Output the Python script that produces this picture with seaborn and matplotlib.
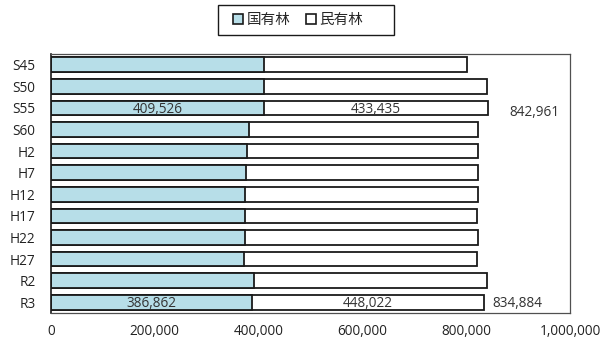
import matplotlib
matplotlib.use("Agg")
import matplotlib.pyplot as plt
import seaborn as sns
import pandas as pd
from matplotlib.patches import Patch, Rectangle
from matplotlib.ticker import FuncFormatter

# 森林面積（国有林・民有林）
years = ["S45", "S50", "S55", "S60", "H2", "H7", "H12", "H17", "H22", "H27", "R2", "R3"]
national = [410000, 410200, 409526, 382000, 377800, 375800, 374500, 373000, 373000, 372000, 390600, 386862]
private = [391000, 430800, 433435, 441600, 444000, 446200, 447900, 447500, 448800, 448500, 449200, 448022]
labeled_years = ["S55", "R3"]

df = pd.DataFrame({"year": years, "national": national, "private": private})
df["total"] = df["national"] + df["private"]

sns.set_theme(style="white")
plt.rcParams["font.family"] = ["Open Sans", "Noto Sans CJK JP", "DejaVu Sans"]

fig = plt.figure(figsize=(6.12, 3.42), dpi=100)
ax = fig.add_axes([51 / 612, 1 - 313 / 342, (570 - 51) / 612, (313 - 54) / 342])

blue = "#B7DEE8"
edge = "#1a1a1a"
sns.barplot(data=df, x="total", y="year", order=years, color="white", orient="h",
            width=0.68, edgecolor=edge, linewidth=1.3, saturation=1, ax=ax)
sns.barplot(data=df, x="national", y="year", order=years, color=blue, orient="h",
            width=0.68, edgecolor=edge, linewidth=1.3, saturation=1, ax=ax)

ax.set_xlim(0, 1000000)
ax.set_xticks(range(0, 1000001, 200000))
ax.xaxis.set_major_formatter(FuncFormatter(lambda v, p: f"{int(v):,}"))
ax.set_xlabel("")
ax.set_ylabel("")
ax.tick_params(axis="x", length=0, pad=8, labelsize=9.8, colors="#222222")
ax.tick_params(axis="y", length=0, pad=11, labelsize=9.8, colors="#222222")

for side in ["top", "right", "bottom"]:
    ax.spines[side].set_color("#505050")
    ax.spines[side].set_linewidth(0.9)
ax.spines["left"].set_color(edge)
ax.spines["left"].set_linewidth(1.2)

# value labels for the marked years
total_offsets = {"S55": 21, "R3": 8}
for y in labeled_years:
    i = years.index(y)
    n, p = national[i], private[i]
    t = n + p
    ax.text(n / 2, i + 0.05, f"{n:,}", ha="center", va="center", fontsize=9.8, color="#333333")
    ax.text(n + p / 2, i + 0.05, f"{p:,}", ha="center", va="center", fontsize=9.8, color="#333333")
    ax.annotate(f"{t:,}", xy=(t, i + (0.2 if y == "S55" else 0.05)), xytext=(total_offsets[y] * 0.72, 0),
                textcoords="offset points", ha="left", va="center", fontsize=9.8, color="#333333")

# legend with its own outer box
handles = [Patch(facecolor=blue, edgecolor=edge, linewidth=1.2, label="国有林"),
           Patch(facecolor="white", edgecolor=edge, linewidth=1.2, label="民有林")]
leg = fig.legend(handles=handles, loc="center left", bbox_to_anchor=(226 / 612, 1 - 20 / 342), ncol=2,
                 frameon=False, fontsize=10.5, prop={"family": ["Noto Sans CJK JP"], "size": 10.5},
                 handlelength=0.65, handleheight=0.65, handletextpad=0.25, columnspacing=1.1,
                 borderpad=0.0)
fig.add_artist(Rectangle((218 / 612, 1 - 35 / 342), 176 / 612, 30 / 342, transform=fig.transFigure,
                         facecolor="none", edgecolor=edge, linewidth=1.0))

fig.savefig("out.png", dpi=100)
